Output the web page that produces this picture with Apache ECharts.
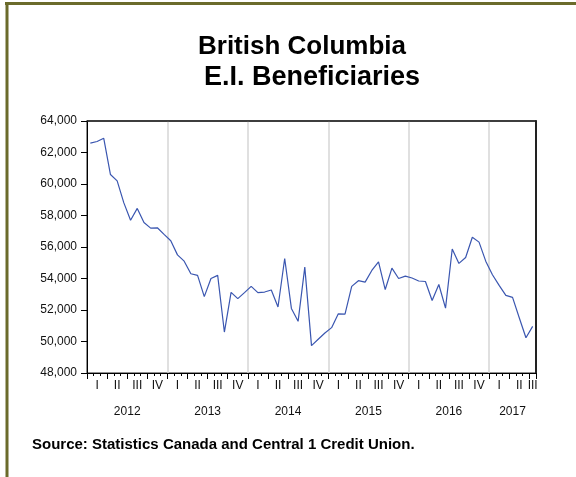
<!DOCTYPE html>
<html>
<head>
<meta charset="utf-8">
<script src="https://cdn.jsdelivr.net/npm/echarts@6/dist/echarts.min.js"></script>
<style>
html,body{margin:0;padding:0;background:#fff;}
#c{width:576px;height:477px;}
</style>
</head>
<body>
<div id="c"></div>
<script>
var years = ['2012','2013','2014','2015','2016','2017'];
var quarterLabels = ['I','II','III','IV'];
var yearLabelPositions = [6, 18, 30, 42, 54, 63.5];
var monthCount = 67;
var beneficiaries = [
  62600,62700,62900,60600,60200,58800,57700,58450,57550,57200,57220,56800,
  56400,55500,55100,54300,54200,52850,54000,54200,50600,53120,52720,53100,
  53500,53100,53140,53270,52190,55270,52100,51280,54720,49740,50140,50540,
  50880,51760,51740,53500,53860,53770,54510,55060,53300,54660,54000,54150,
  54030,53840,53810,52600,53620,52120,55870,54960,55330,56620,56310,55100,
  54240,53560,52930,52800,51510,50240,50960
];
var titleLine1 = 'British Columbia';
var titleLine2 = 'E.I. Beneficiaries';
var sourceText = 'Source: Statistics Canada and Central 1 Credit Union.';

var months = [];
for (var i = 0; i < monthCount; i++) {
  months.push(years[Math.floor(i / 12)] + '-' + (i % 12 + 1));
}

var FONT = '"Liberation Sans", Arial, Helvetica, sans-serif';
var chart = echarts.init(document.getElementById('c'), null, {renderer: 'canvas'});
var grid = {left: 87, right: 40, top: 121, bottom: 104, show: true, borderColor: '#222', borderWidth: 1, backgroundColor: '#fff'};

chart.setOption({
  animation: false,
  backgroundColor: '#fff',
  grid: grid,
  graphic: [
    {type: 'line', shape: {x1: 5, y1: 3.5, x2: 576, y2: 3.5}, style: {stroke: '#6b6b2b', lineWidth: 3}},
    {type: 'line', shape: {x1: 7, y1: 2, x2: 7, y2: 477}, style: {stroke: '#6b6b2b', lineWidth: 3}},
    {type: 'text', x: 302, y: 47, style: {text: titleLine1, font: 'bold 26px ' + FONT, fill: '#000', textAlign: 'center', textVerticalAlign: 'middle'}},
    {type: 'text', x: 312, y: 78, style: {text: titleLine2, font: 'bold 27px ' + FONT, fill: '#000', textAlign: 'center', textVerticalAlign: 'middle'}},
    {type: 'text', x: 32, y: 445, style: {text: sourceText, font: 'bold 15px ' + FONT, fill: '#000', textAlign: 'left', textVerticalAlign: 'middle'}}
  ],
  xAxis: [
    {
      type: 'category', data: months, boundaryGap: true, position: 'bottom',
      axisLine: {show: true, onZero: false, lineStyle: {color: '#000', width: 1}},
      axisTick: {show: true, interval: 0, length: 3, lineStyle: {color: '#000'}},
      axisLabel: {show: false},
      splitLine: {show: true, interval: function (i) { return i % 12 === 0 && i > 0 && i < monthCount; }, lineStyle: {color: '#d6d6d6', width: 1.5}}
    },
    {
      type: 'category', data: months, boundaryGap: true, position: 'bottom',
      axisLine: {show: false, onZero: false},
      axisTick: {show: true, interval: function (i) { return i % 3 === 0; }, length: 6, lineStyle: {color: '#000'}},
      axisLabel: {
        show: true, margin: 7, fontSize: 12, fontFamily: FONT, color: '#111',
        interval: function (i) { return i % 3 === 1 || i === monthCount - 1; },
        formatter: function (v, i) { return quarterLabels[Math.floor((i % 12) / 3)]; }
      },
      splitLine: {show: false}
    },
    {
      type: 'value', min: 0, max: monthCount, position: 'bottom',
      axisLine: {show: false, onZero: false}, axisTick: {show: false}, splitLine: {show: false},
      axisLabel: {
        show: true, margin: 33, fontSize: 12, fontFamily: FONT, color: '#111',
        customValues: yearLabelPositions,
        formatter: function (v) { return years[Math.floor(v / 12)]; }
      }
    },
    {
      type: 'value', min: 0, max: monthCount, position: 'top',
      axisLine: {show: true, onZero: false, lineStyle: {color: '#222', width: 1.5}},
      axisTick: {show: false}, axisLabel: {show: false}, splitLine: {show: false}
    }
  ],
  yAxis: [
    {
      type: 'value', min: 48000, max: 64000, interval: 2000, position: 'left',
      axisLine: {show: true, onZero: false, lineStyle: {color: '#000', width: 1}},
      axisTick: {show: true, length: 6, lineStyle: {color: '#000'}},
      axisLabel: {
        margin: 10, fontSize: 12, fontFamily: FONT, color: '#111',
        formatter: function (v) { return v.toLocaleString('en-US'); }
      },
      splitLine: {show: false}
    },
    {
      type: 'value', min: 48000, max: 64000, interval: 2000, position: 'right',
      axisLine: {show: true, onZero: false, lineStyle: {color: '#222', width: 2}},
      axisTick: {show: false}, axisLabel: {show: false}, splitLine: {show: false}
    }
  ],
  series: [{
    type: 'line', xAxisIndex: 0, yAxisIndex: 0, data: beneficiaries, showSymbol: false, symbol: 'none',
    lineStyle: {color: '#3a56b0', width: 1.2}
  }]
});
</script>
</body>
</html>
